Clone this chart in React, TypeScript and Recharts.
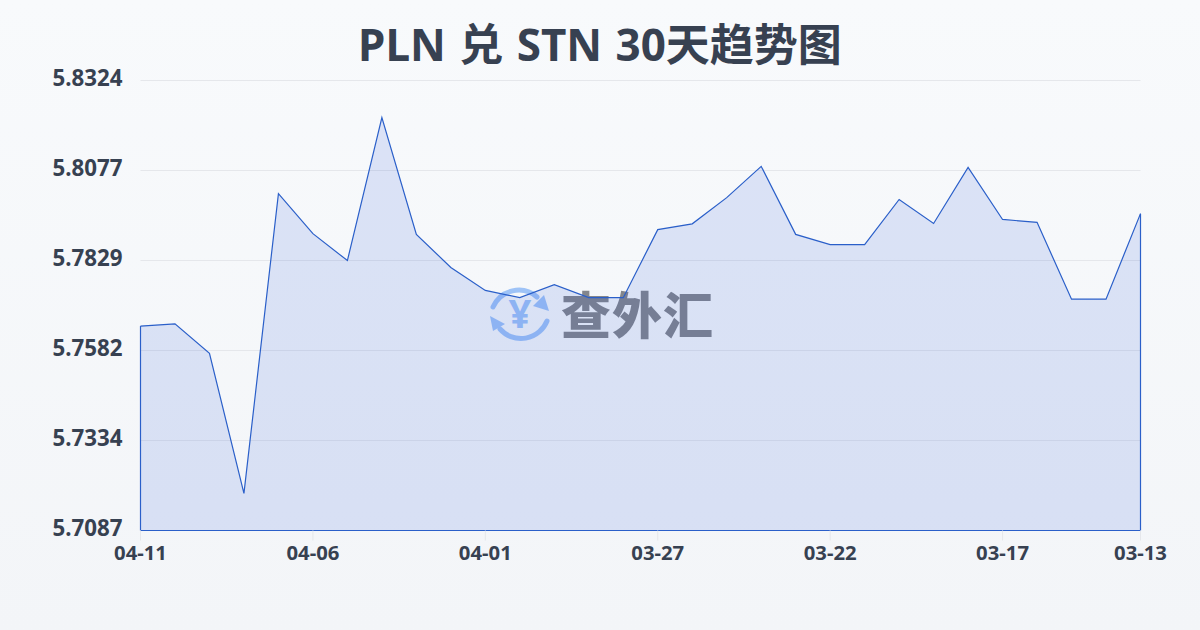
import { Area, AreaChart, CartesianGrid, ReferenceLine, XAxis, YAxis } from 'recharts'

const dates = [
  '04-11', '04-10', '04-09', '04-08', '04-07', '04-06', '04-05', '04-04', '04-03', '04-02',
  '04-01', '03-31', '03-30', '03-29', '03-28', '03-27', '03-26', '03-25', '03-24', '03-23',
  '03-22', '03-21', '03-20', '03-19', '03-18', '03-17', '03-16', '03-15', '03-14', '03-13',
]
const rates = [
  5.7649, 5.7655, 5.7574, 5.7189, 5.8013, 5.7903, 5.7829, 5.8222, 5.7901, 5.781,
  5.7747, 5.7727, 5.7763, 5.7727, 5.7727, 5.7914, 5.793, 5.8002, 5.8088, 5.7901,
  5.7873, 5.7873, 5.7997, 5.7931, 5.8085, 5.7942, 5.7934, 5.7723, 5.7723, 5.7958,
]
const xTicks = ['04-11', '04-06', '04-01', '03-27', '03-22', '03-17', '03-13']
const yTicks = [5.7087, 5.73344, 5.75818, 5.78292, 5.80766, 5.8324]

const data = dates.map((date, i) => ({ date, rate: rates[i] }))

const FONT = '"Noto Sans", "Noto Sans CJK SC", sans-serif'
const LINE = '#2a5fc9'
const TEXT = '#374151'
const LOGO = '#5b9bf5'

function Watermark() {
  return (
    <div style={{ position: 'absolute', left: 488, top: 283, display: 'flex', alignItems: 'center', opacity: 0.56 }}>
      <svg width={64} height={62} viewBox="0 0 64 62">
        <g fill="none" stroke={LOGO} strokeWidth={5} strokeLinecap="round">
          <path d="M5 24 A28 28 0 0 1 49 14" />
          <path d="M59 38 A28 28 0 0 1 12 46" />
        </g>
        <path d="M56 12 L61 28 L45 23 Z" fill={LOGO} />
        <path d="M2 33 L17 41 L5 48 Z" fill={LOGO} />
        <text x={32} y={45} textAnchor="middle" fontSize={40} fontWeight={700} fontFamily={FONT} fill={LOGO}>¥</text>
      </svg>
      <span
        style={{
          position: 'relative',
          top: -2,
          fontFamily: '"Noto Sans CJK SC", sans-serif',
          fontSize: 50,
          fontWeight: 900,
          color: '#2b2f38',
          marginLeft: 9,
          letterSpacing: 1,
          lineHeight: '62px',
        }}
      >
        查外汇
      </span>
    </div>
  )
}

export default function App() {
  return (
    <div
      style={{
        position: 'absolute',
        left: 0,
        top: 0,
        width: 1200,
        height: 630,
        overflow: 'hidden',
        background: 'linear-gradient(180deg, #f8fafc 0%, #f3f5f8 100%)',
        fontFamily: FONT,
      }}
    >
      <div
        style={{
          position: 'absolute',
          left: 0,
          top: 11,
          width: 1200,
          textAlign: 'center',
          fontSize: 44,
          fontWeight: 700,
          wordSpacing: 2,
          lineHeight: '66px',
          color: TEXT,
        }}
      >
        PLN 兑 STN 30天趋势图
      </div>
      <Watermark />
      <AreaChart
        width={1200}
        height={630}
        data={data}
        margin={{ top: 80.5, right: 59.5, bottom: 59.5, left: 0.5 }}
        style={{ position: 'absolute', left: 0, top: 0 }}
      >
        <CartesianGrid horizontal vertical={false} stroke="#e5e7eb" strokeWidth={1} />
        <XAxis
          dataKey="date"
          ticks={xTicks}
          interval={0}
          height={40}
          tickSize={10}
          tickMargin={5}
          axisLine={{ stroke: LINE, strokeWidth: 1.2 }}
          tickLine={{ stroke: '#e5e7eb' }}
          tick={{ fontSize: 20.3, fontWeight: 700, fill: TEXT, fontFamily: FONT }}
        />
        <YAxis
          type="number"
          domain={[5.7087, 5.8324]}
          ticks={yTicks}
          interval={0}
          width={140}
          tickSize={0}
          tickMargin={18}
          axisLine={false}
          tickLine={false}
          tickFormatter={(v) => Number(v).toFixed(4)}
          tick={{ fontSize: 22.3, fontWeight: 700, fill: TEXT, fontFamily: FONT, dy: -2 }}
        />
        <Area
          type="linear"
          dataKey="rate"
          stroke={LINE}
          strokeWidth={1.2}
          fill="#1d4ed8"
          fillOpacity={0.13}
          isAnimationActive={false}
          dot={false}
          activeDot={false}
        />
        <ReferenceLine
          segment={[{ x: dates[0], y: 5.7087 }, { x: dates[0], y: rates[0] }]}
          stroke={LINE}
          strokeWidth={1.2}
          ifOverflow="visible"
        />
        <ReferenceLine
          segment={[{ x: dates[29], y: 5.7087 }, { x: dates[29], y: rates[29] }]}
          stroke={LINE}
          strokeWidth={1.2}
          ifOverflow="visible"
        />
      </AreaChart>
    </div>
  )
}
